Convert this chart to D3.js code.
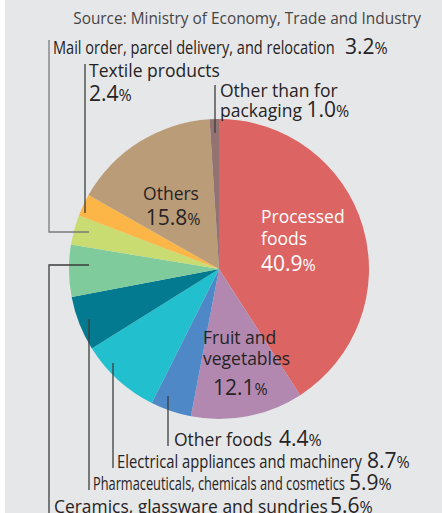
<!doctype html>
<html>
  <head>
    <meta charset="utf-8" />
    <title>Shipments by item</title>
    <script src="https://cdn.jsdelivr.net/npm/d3@7"></script>
    <style>
      html,
      body {
        margin: 0;
        overflow: hidden;
        background: #fff;
      }
      text {
        font-family: "Open Sans", "Noto Sans", sans-serif;
        fill: #262324;
      }
    </style>
  </head>
  <body>
    <script>
      // Share of total, percent, clockwise from 12 o'clock
      const categories = [
        "Processed foods",
        "Fruit and vegetables",
        "Other foods",
        "Electrical appliances and machinery",
        "Pharmaceuticals, chemicals and cosmetics",
        "Ceramics, glassware and sundries",
        "Mail order, parcel delivery, and relocation",
        "Textile products",
        "Others",
        "Other than for packaging",
      ];
      const shares = [40.9, 12.1, 4.4, 8.7, 5.9, 5.6, 3.2, 2.4, 15.8, 1.0];
      const sliceColors = [
        "#dc6462",
        "#b388b0",
        "#4e88c6",
        "#22bfcf",
        "#037a90",
        "#80cb9b",
        "#c9dc72",
        "#fbb647",
        "#bb9c78",
        "#937371",
      ];
      const source = "Source: Ministry of Economy, Trade and Industry";

      const width = 442;
      const height = 513;
      const cx = 219;
      const cy = 269;
      const radius = 150;
      const labelSize = 17.5;
      const numSize = 21;

      // label layout: lines of text, leader path, condensed width
      const labelLayout = [
        { i: 0, x: 261, lines: ["Processed", "foods"], ys: [223, 245, 271], fill: "#fff" },
        { i: 1, x: 203, lines: ["Fruit and", "vegetables"], ys: [344, 365, 395], pctX: 213 },
        { i: 2, x: 174, ys: [446], leader: [[168, 396], [168, 446]], pctX: 279 },
        { i: 3, x: 117, ys: [468], leader: [[113, 363], [113, 468]], squeeze: 245, pctX: 367 },
        { i: 4, x: 93, ys: [490], leader: [[89, 319], [89, 490]], squeeze: 252, pctX: 349 },
        { i: 5, x: 54, ys: [513], leader: [[89, 265], [49, 265], [49, 513]], squeeze: 274, pctX: 330 },
        { i: 6, x: 53, ys: [54], leader: [[89, 232], [49, 232], [49, 40]], squeeze: 282, pctX: 345, lineColor: "#7a7a7a" },
        { i: 7, x: 89, lines: ["Textile products"], ys: [77, 101], leader: [[85, 213], [85, 64]] },
        { i: 8, x: 171, lines: ["Others"], ys: [200, 225], anchor: "middle", pctX: 173 },
        { i: 9, x: 220, lines: ["Other than for", "packaging "], ys: [97, 117], leader: [[215, 133], [215, 85]] },
      ];

      const svg = d3
        .create("svg")
        .attr("width", width)
        .attr("height", height)
        .attr("viewBox", [0, 0, width, height]);
      // attach early so text can be measured
      document.body.appendChild(svg.node());

      svg
        .append("rect")
        .attr("x", 5)
        .attr("width", width - 5)
        .attr("height", height)
        .attr("fill", "#e6e7e9");

      const pie = d3
        .pie()
        .sort(null)
        .value((d) => d)
        .startAngle(0)
        .endAngle(2 * Math.PI);
      const arcs = pie(shares);
      const arc = d3.arc().innerRadius(0).outerRadius(radius);

      svg
        .append("g")
        .attr("transform", `translate(${cx},${cy})`)
        .selectAll("path")
        .data(arcs)
        .join("path")
        .attr("d", arc)
        .attr("fill", (d, i) => sliceColors[i]);

      svg
        .append("text")
        .attr("x", 421)
        .attr("y", 24)
        .attr("text-anchor", "end")
        .attr("font-size", 15.4)
        .style("fill", "#454545")
        .text(source);

      // leader lines
      svg
        .append("g")
        .attr("fill", "none")
        .attr("stroke-width", 1.3)
        .selectAll("path")
        .data(labelLayout.filter((d) => d.leader))
        .join("path")
        .attr("stroke", (d) => d.lineColor || "#3c3c3c")
        .attr("d", (d) => d3.line()(d.leader));

      function pctText(g, value, x, y, size, anchor, fill) {
        const t = g
          .append("text")
          .attr("x", x)
          .attr("y", y)
          .attr("text-anchor", anchor || "start")
          .style("fill", fill || "#262324");
        t.append("tspan").attr("font-size", size).text(d3.format(".1f")(value));
        t.append("tspan").attr("font-size", size * 0.76).text("%");
        return t;
      }

      const labels = svg.append("g");
      labelLayout.forEach((d) => {
        const value = shares[d.i];
        const fill = d.fill || "#262324";
        if (d.squeeze) {
          // one-line condensed label followed by the share
          const t = labels
            .append("text")
            .attr("font-size", 18)
            .text(categories[d.i]);
          const k = d.squeeze / t.node().getComputedTextLength();
          t.attr("transform", `translate(${d.x},${d.ys[0]}) scale(${k},1)`);
          pctText(labels, value, d.pctX, d.ys[0], numSize);
        } else if (!d.lines) {
          labels
            .append("text")
            .attr("x", d.x)
            .attr("y", d.ys[0])
            .attr("font-size", labelSize)
            .text(categories[d.i]);
          pctText(labels, value, d.pctX, d.ys[0], numSize);
        } else if (d.i === 9) {
          labels
            .append("text")
            .attr("x", d.x)
            .attr("y", d.ys[0])
            .attr("font-size", labelSize)
            .text(d.lines[0]);
          const t = labels
            .append("text")
            .attr("x", d.x)
            .attr("y", d.ys[1])
            .attr("font-size", labelSize)
            .text(d.lines[1]);
          t.append("tspan").attr("font-size", numSize).text(d3.format(".1f")(value));
          t.append("tspan").attr("font-size", numSize * 0.76).text("%");
        } else {
          d.lines.forEach((line, k) => {
            labels
              .append("text")
              .attr("x", d.x)
              .attr("y", d.ys[k])
              .attr("font-size", labelSize)
              .attr("text-anchor", d.anchor || "start")
              .style("fill", fill)
              .text(line);
          });
          pctText(
            labels,
            value,
            d.pctX || d.x,
            d.ys[d.lines.length],
            numSize,
            d.anchor,
            fill,
          );
        }
      });
    </script>
  </body>
</html>
